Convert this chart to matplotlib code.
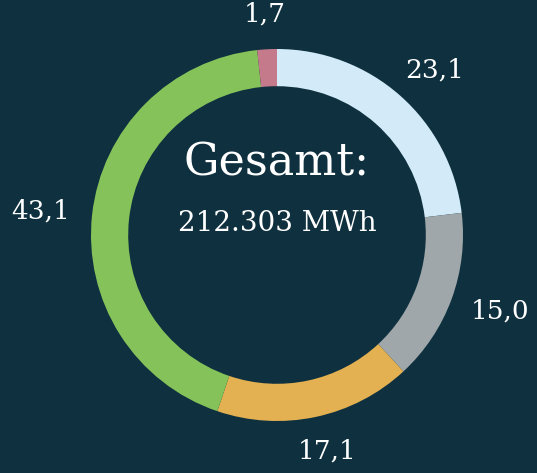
import numpy as np
import matplotlib
matplotlib.use("Agg")
import matplotlib.pyplot as plt

# Anteile in Prozent (im Uhrzeigersinn ab 12 Uhr)
shares = [23.1, 15.0, 17.1, 43.1, 1.7]
labels = ["23,1", "15,0", "17,1", "43,1", "1,7"]
colors = ["#d3ebf8", "#a0a7aa", "#e3b052", "#85c35a", "#c47a8a"]
title_text = "Gesamt:"
total_text = "212.303 MWh"

bg = "#0e303f"
font = "DejaVu Serif"

fig = plt.figure(figsize=(5.37, 4.73), dpi=100, facecolor=bg)
ax = fig.add_axes([0, 0, 1, 1])
ax.set_facecolor(bg)

# 1 Einheit = 186 px, Mittelpunkt bei (277, 235)
scale = 186.0
ax.set_xlim(-277 / scale, (537 - 277) / scale)
ax.set_ylim(-(473 - 235) / scale, 235 / scale)
ax.set_aspect("auto")
ax.axis("off")

wedges, _ = ax.pie(
    shares,
    colors=colors,
    startangle=90,
    counterclock=False,
    radius=1.0,
    wedgeprops=dict(width=0.2, edgecolor="none"),
)
ax.set_xlim(-277 / scale, (537 - 277) / scale)
ax.set_ylim(-(473 - 235) / scale, 235 / scale)

# labels just outside the ring, pushed out by half their box size
renderer = fig.canvas.get_renderer()
gap = 1.12
for w, lab in zip(wedges, labels):
    mid = np.deg2rad((w.theta1 + w.theta2) / 2)
    c, s = np.cos(mid), np.sin(mid)
    t = ax.text(gap * c, gap * s, lab, ha="center", va="center",
                color="white", fontsize=19, family=font)
    bb = t.get_window_extent(renderer)
    half_w = bb.width / 2 / scale
    half_h = bb.height / 2 / scale
    t.set_position((gap * c + half_w * c, gap * s + half_h * s))

ax.text(0, 0.39, title_text, ha="center", va="center", color="white",
        fontsize=32, family=font)
ax.text(0, 0.06, total_text, ha="center", va="center", color="white",
        fontsize=20, family=font)

fig.savefig("out.png", dpi=100, facecolor=bg)
